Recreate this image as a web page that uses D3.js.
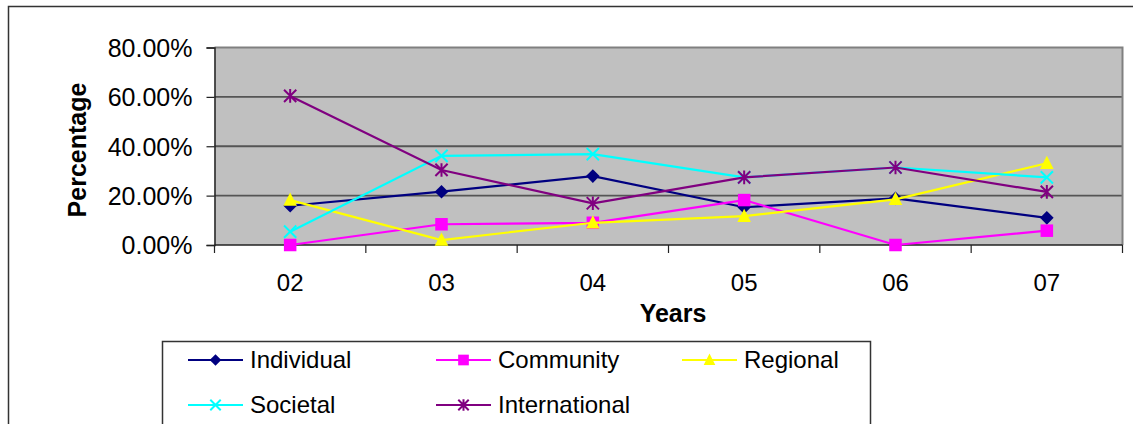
<!DOCTYPE html>
<html>
<head>
<meta charset="utf-8">
<script src="https://cdn.jsdelivr.net/npm/d3@7"></script>
<style>
  html, body { margin: 0; padding: 0; background: #fff; }
  svg { display: block; font-family: "Liberation Sans", Arial, sans-serif; }
</style>
</head>
<body>
<svg id="chart" width="1133" height="424"></svg>
<script>
// Share of responses per level, by year (percent)
const years = ["02", "03", "04", "05", "06", "07"];
const individual    = [15.9, 21.6, 27.9, 15.3, 18.9, 11.0];
const community     = [0.0, 8.4, 9.0, 18.2, 0.0, 5.8];
const regional      = [18.2, 2.0, 9.0, 11.7, 18.5, 33.1];
const societal      = [5.4, 36.1, 36.8, 27.4, 31.4, 27.4];
const international = [60.4, 30.4, 16.9, 27.4, 31.4, 21.5];
const yTicks = [0, 20, 40, 60, 80];

const series = [
  { name: "Individual",    values: individual,    color: "#000080", marker: "diamond" },
  { name: "Community",     values: community,     color: "#ff00ff", marker: "square" },
  { name: "Regional",      values: regional,      color: "#ffff00", marker: "triangle" },
  { name: "Societal",      values: societal,      color: "#00ffff", marker: "cross" },
  { name: "International", values: international, color: "#800080", marker: "star" }
];

const svg = d3.select("#chart");

// outer frame
svg.append("rect")
  .attr("x", 8.5).attr("y", 6.5).attr("width", 1140).attr("height", 430)
  .attr("fill", "none").attr("stroke", "#333").attr("stroke-width", 1.5);

const plot = { left: 214.5, right: 1122.5, top: 47.5, bottom: 245 };

const x = d3.scaleBand().domain(years).range([plot.left, plot.right]).padding(0);
const y = d3.scaleLinear().domain([0, 80]).range([plot.bottom, plot.top]);
const cx = d => x(d) + x.bandwidth() / 2;

// plot background
svg.append("rect")
  .attr("x", plot.left).attr("y", plot.top)
  .attr("width", plot.right - plot.left).attr("height", plot.bottom - plot.top)
  .attr("fill", "#c0c0c0");

// horizontal gridlines
svg.append("g").selectAll("line")
  .data(yTicks.filter(t => t > 0 && t < 80))
  .join("line")
  .attr("x1", plot.left).attr("x2", plot.right)
  .attr("y1", d => y(d)).attr("y2", d => y(d))
  .attr("stroke", "#555").attr("stroke-width", 1.8);

// plot frame (top and right)
svg.append("path")
  .attr("d", `M${plot.left},${y(80)}H${plot.right}V${plot.bottom}`)
  .attr("fill", "none").attr("stroke", "#808080").attr("stroke-width", 2);

// y axis
const yAxis = svg.append("g")
  .attr("transform", `translate(${plot.left},0)`)
  .call(d3.axisLeft(y).tickValues(yTicks).tickSize(8).tickPadding(14)
    .tickFormat(d => d.toFixed(2) + "%"));
yAxis.select(".domain").attr("stroke", "#222").attr("stroke-width", 1.5);
yAxis.selectAll(".tick line").attr("stroke", "#222").attr("stroke-width", 1.2);
yAxis.selectAll(".tick text")
  .attr("font-size", 25).attr("fill", "#000")
  .attr("font-family", "Liberation Sans, Arial, sans-serif")
  .attr("dy", "0.35em");

// x axis: labels centred in each band, ticks on band edges
const xAxis = svg.append("g")
  .attr("transform", `translate(0,${plot.bottom})`)
  .call(d3.axisBottom(x).tickSize(0));
xAxis.select(".domain").remove();
xAxis.selectAll(".tick text")
  .attr("font-size", 24).attr("fill", "#000")
  .attr("font-family", "Liberation Sans, Arial, sans-serif")
  .attr("y", 46).attr("dy", 0);

const edges = years.map(d => x(d)).concat([plot.right]);
svg.append("line")
  .attr("x1", plot.left).attr("x2", plot.right)
  .attr("y1", plot.bottom).attr("y2", plot.bottom)
  .attr("stroke", "#222").attr("stroke-width", 1.5);
svg.append("g").selectAll("line")
  .data(edges).join("line")
  .attr("x1", d => d).attr("x2", d => d)
  .attr("y1", plot.bottom).attr("y2", plot.bottom + 8)
  .attr("stroke", "#222").attr("stroke-width", 1.2);

// axis titles
svg.append("text")
  .attr("transform", `translate(86,150) rotate(-90)`)
  .attr("text-anchor", "middle")
  .attr("font-size", 25).attr("font-weight", "bold")
  .text("Percentage");

svg.append("text")
  .attr("x", 673).attr("y", 322)
  .attr("text-anchor", "middle")
  .attr("font-size", 25).attr("font-weight", "bold")
  .text("Years");

// marker shapes
function drawMarker(g, type, color, s) {
  switch (type) {
    case "diamond":
      g.append("path").attr("d", `M0,${-s}L${s},0L0,${s}L${-s},0Z`).attr("fill", color);
      break;
    case "square":
      g.append("rect").attr("x", -s * 0.92).attr("y", -s * 0.92)
        .attr("width", s * 1.84).attr("height", s * 1.84).attr("fill", color);
      break;
    case "triangle":
      g.append("path").attr("d", `M0,${-s * 1.1}L${s},${s * 0.85}L${-s},${s * 0.85}Z`).attr("fill", color);
      break;
    case "cross":
      g.append("path").attr("d", `M${-s * 0.9},${-s * 0.9}L${s * 0.9},${s * 0.9}M${-s * 0.9},${s * 0.9}L${s * 0.9},${-s * 0.9}`)
        .attr("stroke", color).attr("stroke-width", 2).attr("fill", "none");
      break;
    case "star":
      g.append("path").attr("d",
        `M${-s * 0.9},${-s * 0.9}L${s * 0.9},${s * 0.9}M${-s * 0.9},${s * 0.9}L${s * 0.9},${-s * 0.9}M0,${-s}V${s}`)
        .attr("stroke", color).attr("stroke-width", 2).attr("fill", "none");
      break;
  }
}

// series lines and markers
const line = d3.line().x(d => cx(d.year)).y(d => y(d.value));
series.forEach(s => {
  const pts = years.map((yr, i) => ({ year: yr, value: s.values[i] }));
  const g = svg.append("g");
  g.append("path")
    .datum(pts)
    .attr("d", line)
    .attr("fill", "none").attr("stroke", s.color).attr("stroke-width", 2.2);
  pts.forEach(p => {
    const m = g.append("g").attr("transform", `translate(${cx(p.year)},${y(p.value)})`);
    drawMarker(m, s.marker, s.color, 6.8);
  });
});

// legend
const legend = svg.append("g");
legend.append("rect")
  .attr("x", 162.5).attr("y", 341.5).attr("width", 708).attr("height", 100)
  .attr("fill", "#fff").attr("stroke", "#333").attr("stroke-width", 1.5);

const colX = [188, 436, 682];
const rowY = [360, 405];
series.forEach((s, i) => {
  const lx = colX[i % 3], ly = rowY[Math.floor(i / 3)];
  const g = legend.append("g").attr("transform", `translate(${lx},${ly})`);
  g.append("line").attr("x1", 0).attr("x2", 55).attr("y1", 0).attr("y2", 0)
    .attr("stroke", s.color).attr("stroke-width", 2.2);
  const m = g.append("g").attr("transform", "translate(27.5,0)");
  drawMarker(m, s.marker, s.color, 5.8);
  g.append("text").attr("x", 62).attr("y", 0).attr("dy", "0.35em")
    .attr("font-size", 24).attr("fill", "#000")
    .text(s.name);
});
</script>
</body>
</html>
